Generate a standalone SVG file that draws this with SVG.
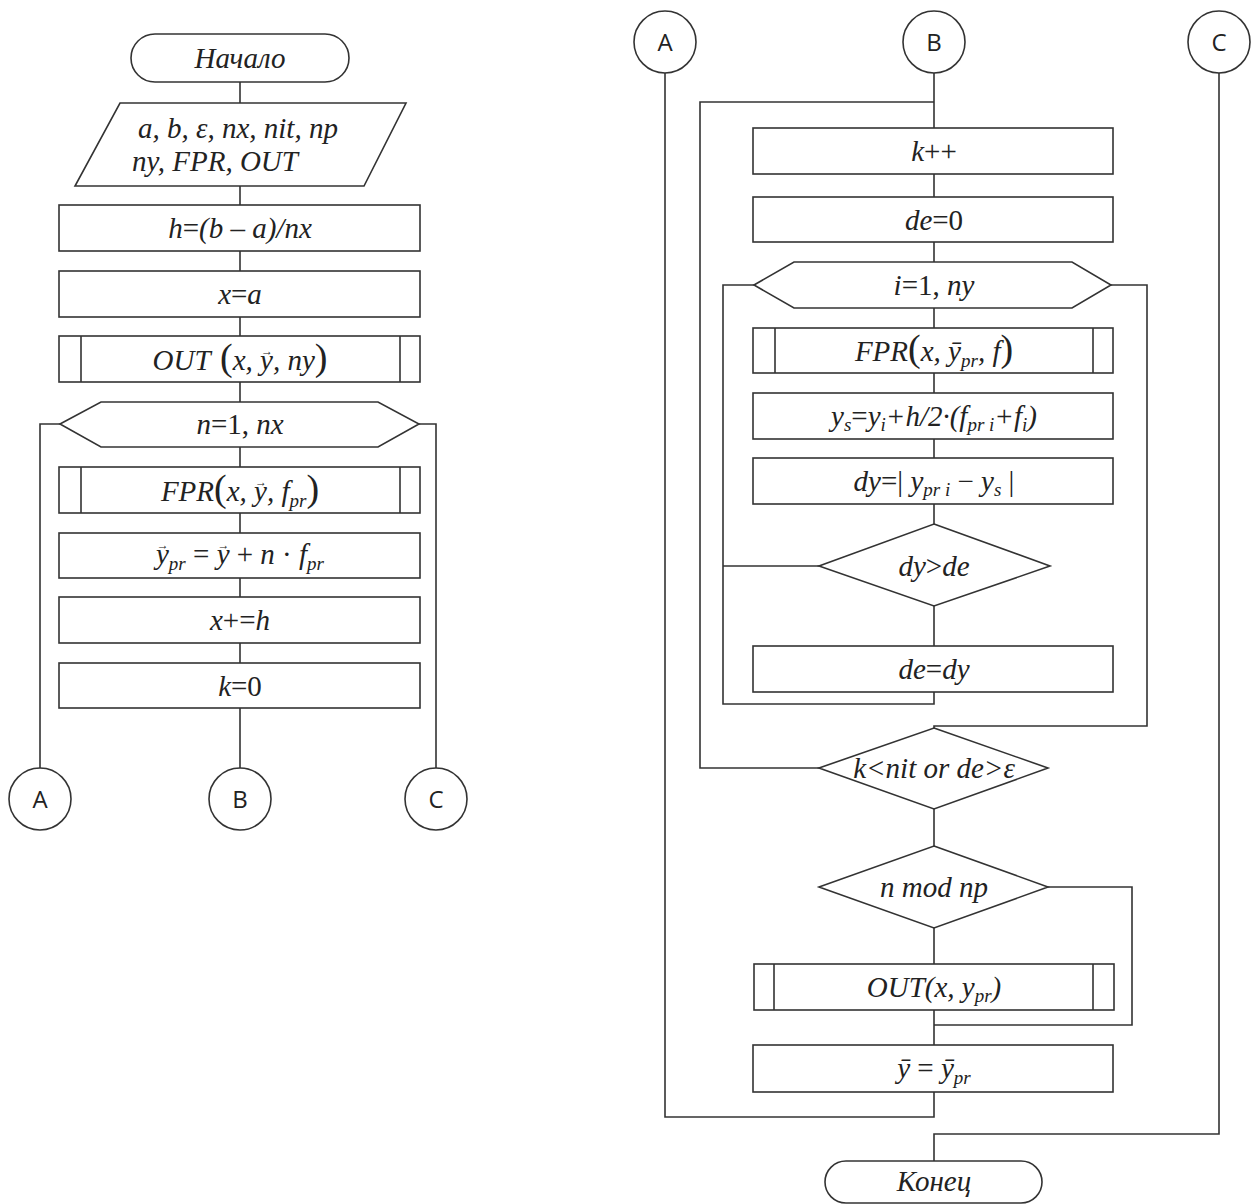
<svg xmlns="http://www.w3.org/2000/svg" width="1255" height="1204" viewBox="0 0 1255 1204">
<style>
.ln{stroke:#333;stroke-width:1.6;fill:none}
.bx{fill:#fff;stroke:#333;stroke-width:1.6}
.t{font-family:"Liberation Serif","Times New Roman",serif;font-style:italic;font-size:29px;fill:#222;text-anchor:middle}
.up{font-style:normal}
.c{font-family:"Open Sans","Liberation Sans",sans-serif;font-size:24px;fill:#222;text-anchor:middle}
.sb{font-size:19px}
.bp{font-style:normal;font-size:38px}
.ar{font-style:normal;font-size:12px}
</style>
<rect width="1255" height="1204" fill="#fff"/>
<g id="connectors">
  <path class="ln" d="M240,82V103M240,186V205M240,251V271M240,317V336M240,382V402M240,447V467M240,513V533M240,578V597M240,643V663M240,708V768"/>
  <path class="ln" d="M60,424H40V768M419,424H436V768"/>
  <path class="ln" d="M934,73V128M934,174V197M934,242V262M934,308V328M934,373V393M934,439V458M934,504V524M934,606V646M934,809V846M934,928V964M934,1010V1045"/>
  <path class="ln" d="M819,768H700V102H934"/>
  <path class="ln" d="M754,285H723V704H934V692M819,566H723"/>
  <path class="ln" d="M1111,285H1147V726H934V728"/>
  <path class="ln" d="M1048,887H1132V1025H934"/>
  <path class="ln" d="M934,1092V1117H665V73"/>
  <path class="ln" d="M1219,73V1134H934V1161"/>
</g>
<g id="start">
  <rect class="bx" x="131" y="34" width="218" height="48" rx="24"/>
  <text class="t" x="240" y="68">Начало</text>
</g>
<g id="input">
  <polygon class="bx" points="120,103 406,103 364,186 75,186"/>
  <text class="t" x="138" y="138" style="text-anchor:start">a, b, ε, nx, nit, np</text>
  <text class="t" x="132" y="171" style="text-anchor:start">ny, FPR, OUT</text>
</g>
<g id="h">
  <rect class="bx" x="59" y="205" width="361" height="46"/>
  <text class="t" x="240" y="238">h<tspan class="up">=</tspan>(b – a)/nx</text>
</g>
<g id="xa">
  <rect class="bx" x="59" y="271" width="361" height="46"/>
  <text class="t" x="240" y="304">x<tspan class="up">=</tspan>a</text>
</g>
<g id="out1">
  <rect class="bx" x="59" y="336" width="361" height="46"/>
  <path class="ln" d="M81,336V382M400,336V382"/>
  <text class="t" x="240" y="370">OUT<tspan class="bp"> (</tspan>x, y<tspan class="ar" dx="-12" dy="-15">→</tspan><tspan dy="15">, ny</tspan><tspan class="bp">)</tspan></text>
</g>
<g id="loopn">
  <polygon class="bx" points="60,424 101,402 378,402 419,424 378,447 101,447"/>
  <text class="t" x="240" y="434">n<tspan class="up">=1,</tspan> nx</text>
</g>
<g id="fpr1">
  <rect class="bx" x="59" y="467" width="361" height="46"/>
  <path class="ln" d="M81,467V513M400,467V513"/>
  <text class="t" x="240" y="501">FPR<tspan class="bp">(</tspan>x, y<tspan class="ar" dx="-12" dy="-15">→</tspan><tspan dy="15">, f</tspan><tspan class="sb" dy="6">pr</tspan><tspan class="bp" dy="-6">)</tspan></text>
</g>
<g id="ypr">
  <rect class="bx" x="59" y="533" width="361" height="45"/>
  <text class="t" x="240" y="564">y<tspan class="ar" dx="-12" dy="-15">→</tspan><tspan class="sb" dy="21">pr</tspan><tspan class="up" dy="-6"> = </tspan>y<tspan class="ar" dx="-12" dy="-15">→</tspan><tspan class="up" dy="15"> + </tspan>n<tspan class="up"> · </tspan>f<tspan class="sb" dy="6">pr</tspan></text>
</g>
<g id="xh">
  <rect class="bx" x="59" y="597" width="361" height="46"/>
  <text class="t" x="240" y="630">x<tspan class="up">+=</tspan>h</text>
</g>
<g id="k0">
  <rect class="bx" x="59" y="663" width="361" height="45"/>
  <text class="t" x="240" y="696">k<tspan class="up">=0</tspan></text>
</g>
<g id="cA1"><circle class="bx" cx="40" cy="799" r="31"/><text class="c" x="40" y="808">A</text></g>
<g id="cB1"><circle class="bx" cx="240" cy="799" r="31"/><text class="c" x="240" y="808">B</text></g>
<g id="cC1"><circle class="bx" cx="436" cy="799" r="31"/><text class="c" x="436" y="808">C</text></g>

<g id="cA2"><circle class="bx" cx="665" cy="42" r="31"/><text class="c" x="665" y="51">A</text></g>
<g id="cB2"><circle class="bx" cx="934" cy="42" r="31"/><text class="c" x="934" y="51">B</text></g>
<g id="cC2"><circle class="bx" cx="1219" cy="42" r="31"/><text class="c" x="1219" y="51">C</text></g>

<g id="kinc">
  <rect class="bx" x="753" y="128" width="360" height="46"/>
  <text class="t" x="934" y="161">k<tspan class="up">++</tspan></text>
</g>
<g id="de0">
  <rect class="bx" x="753" y="197" width="360" height="45"/>
  <text class="t" x="934" y="230">de<tspan class="up">=0</tspan></text>
</g>
<g id="loopi">
  <polygon class="bx" points="754,285 794,262 1072,262 1111,285 1072,308 794,308"/>
  <text class="t" x="934" y="295">i<tspan class="up">=1,</tspan> ny</text>
</g>
<g id="fpr2">
  <rect class="bx" x="753" y="328" width="360" height="45"/>
  <path class="ln" d="M775,328V373M1093,328V373"/>
  <text class="t" x="934" y="361">FPR<tspan class="bp">(</tspan>x, ȳ<tspan class="sb" dy="6">pr</tspan><tspan dy="-6">, f</tspan><tspan class="bp">)</tspan></text>
</g>
<g id="ys">
  <rect class="bx" x="753" y="393" width="360" height="46"/>
  <text class="t" x="934" y="426">y<tspan class="sb" dy="5">s</tspan><tspan class="up" dy="-5">=</tspan>y<tspan class="sb" dy="5">i</tspan><tspan dy="-5">+h/2·(f</tspan><tspan class="sb" dy="5">pr i</tspan><tspan dy="-5">+f</tspan><tspan class="sb" dy="5">i</tspan><tspan dy="-5">)</tspan></text>
</g>
<g id="dy">
  <rect class="bx" x="753" y="458" width="360" height="46"/>
  <text class="t" x="934" y="491">dy<tspan class="up">=| </tspan>y<tspan class="sb" dy="5">pr i</tspan><tspan class="up" dy="-5"> − </tspan>y<tspan class="sb" dy="5">s</tspan><tspan class="up" dy="-5"> |</tspan></text>
</g>
<g id="cmp">
  <polygon class="bx" points="934,524 1050,566 934,606 819,566"/>
  <text class="t" x="934" y="576">dy<tspan class="up">&gt;</tspan>de</text>
</g>
<g id="dede">
  <rect class="bx" x="753" y="646" width="360" height="46"/>
  <text class="t" x="934" y="679">de<tspan class="up">=</tspan>dy</text>
</g>
<g id="cond">
  <polygon class="bx" points="934,728 1048,768 934,809 819,768"/>
  <text class="t" x="934" y="778">k&lt;nit or de&gt;ε</text>
</g>
<g id="mod">
  <polygon class="bx" points="934,846 1048,887 934,928 819,887"/>
  <text class="t" x="934" y="897">n mod np</text>
</g>
<g id="out2">
  <rect class="bx" x="754" y="964" width="360" height="46"/>
  <path class="ln" d="M774,964V1010M1093,964V1010"/>
  <text class="t" x="934" y="997">OUT(x, y<tspan class="sb" dy="5">pr</tspan><tspan dy="-5">)</tspan></text>
</g>
<g id="yy">
  <rect class="bx" x="753" y="1045" width="360" height="47"/>
  <text class="t" x="934" y="1078">ȳ<tspan class="up"> = </tspan>ȳ<tspan class="sb" dy="6">pr</tspan></text>
</g>
<g id="end">
  <rect class="bx" x="825" y="1161" width="217" height="42" rx="21"/>
  <text class="t" x="934" y="1191">Конец</text>
</g>
</svg>
